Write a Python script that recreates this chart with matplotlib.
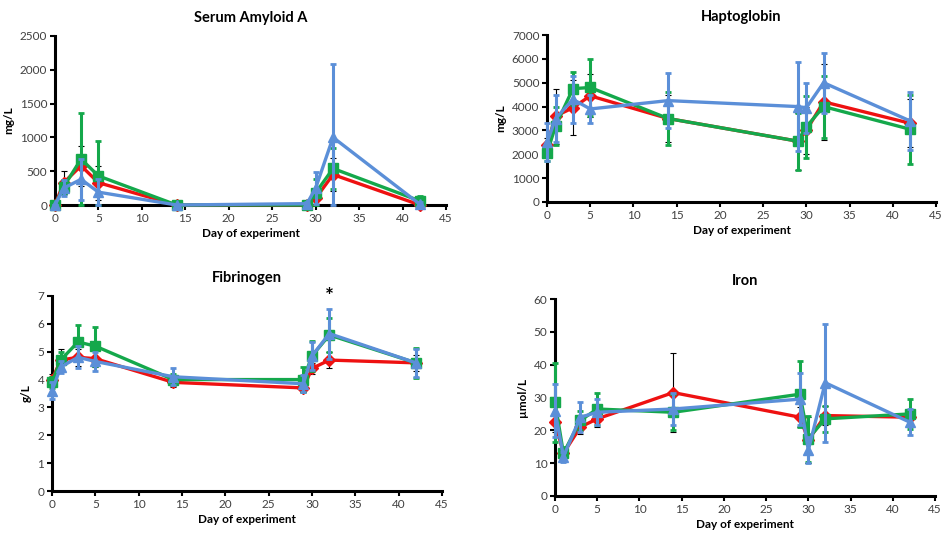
import matplotlib
matplotlib.use("Agg")
import matplotlib.pyplot as plt

plt.rcParams["font.family"] = ["Lato", "DejaVu Sans"]

# Sampling days (shared by all panels)
days = [0, 1, 3, 5, 14, 29, 30, 32, 42]

# Serum Amyloid A (mg/L)
saa_red = [0, 330, 580, 330, 0, 0, 100, 450, 0]
saa_red_err = [0, 170, 300, 250, 0, 10, 80, 250, 20]
saa_green = [0, 270, 680, 430, 0, 0, 180, 540, 60]
saa_green_err = [0, 100, 680, 520, 5, 20, 200, 300, 80]
saa_blue = [0, 250, 380, 190, 0, 20, 250, 1000, 10]
saa_blue_err = [0, 120, 300, 200, 5, 30, 240, 1080, 30]

# Haptoglobin (mg/L)
hp_red = [2400, 3600, 3950, 4450, 3500, 2550, 3000, 4200, 3300]
hp_red_err = [300, 1150, 1150, 900, 1000, 1200, 1000, 1600, 1000]
hp_green = [2050, 3200, 4750, 4800, 3500, 2550, 3150, 4000, 3050]
hp_green_err = [350, 800, 700, 1200, 1100, 1200, 1300, 1300, 1450]
hp_blue = [2500, 3500, 4300, 3900, 4250, 4000, 3950, 5000, 3400]
hp_blue_err = [800, 1000, 1000, 600, 1150, 1850, 1050, 1250, 1200]

# Fibrinogen (g/L)
fib_red = [4.0, 4.7, 4.8, 4.75, 3.9, 3.7, 4.4, 4.7, 4.6]
fib_red_err = [0.2, 0.4, 0.3, 0.3, 0.15, 0.15, 0.2, 0.3, 0.3]
fib_green = [3.9, 4.7, 5.35, 5.2, 4.0, 4.0, 4.85, 5.6, 4.6]
fib_green_err = [0.2, 0.3, 0.6, 0.7, 0.2, 0.45, 0.55, 0.6, 0.55]
fib_blue = [3.6, 4.45, 4.8, 4.65, 4.1, 3.85, 4.85, 5.65, 4.6]
fib_blue_err = [0.3, 0.2, 0.4, 0.35, 0.3, 0.3, 0.5, 0.9, 0.5]

# Iron (umol/L)
fe_red = [22.5, 13, 21, 23.5, 31.5, 24, 17, 24.5, 24]
fe_red_err = [3, 2, 2, 2.5, 12, 3, 7, 3, 2]
fe_green = [28.5, 13, 23, 26.5, 25.5, 31, 17.5, 23.5, 25]
fe_green_err = [12, 2, 3, 5, 5.5, 10, 7, 4, 4.5]
fe_blue = [26, 12, 24, 25.5, 26.5, 29.5, 14, 34.5, 22.5]
fe_blue_err = [8, 1.5, 4.5, 4, 5, 8, 4, 18, 4]

RED = "#ee1111"
GREEN = "#14a84b"
BLUE = "#5b8fd8"
TICK_COLOR = "#404040"

fig = plt.figure(figsize=(9.44, 5.33), dpi=100)
W, H = 944.0, 533.0


def make_axes(left, bottom_px, right, top_px):
    # pixel box (from top-left origin) -> figure fraction
    return fig.add_axes([left / W, (H - bottom_px) / H,
                         (right - left) / W, (bottom_px - top_px) / H])


def floor_err(vals, errs):
    # error bars stop at the x axis (no negative concentrations)
    return [[min(e, v) for v, e in zip(vals, errs)], errs]


def draw_panel(ax, title, ylabel, ymax, ystep, red, red_err, green, green_err,
               blue, blue_err, show_xlabel=True):
    # red series: black thin error bars
    ax.errorbar(days, red, yerr=floor_err(red, red_err), color=RED, lw=2.4,
                marker="D", ms=6, ecolor="black", elinewidth=0.8, capsize=2,
                capthick=0.8, clip_on=False, zorder=3)
    ax.errorbar(days, green, yerr=floor_err(green, green_err), color=GREEN, lw=2.4,
                marker="s", ms=7.5, ecolor=GREEN, elinewidth=2.2, capsize=2,
                capthick=2, clip_on=False, zorder=4)
    ax.errorbar(days, blue, yerr=floor_err(blue, blue_err), color=BLUE, lw=2.4,
                marker="^", ms=7.5, ecolor=BLUE, elinewidth=2.2, capsize=2,
                capthick=2, clip_on=False, zorder=5)

    ax.set_xlim(0, 45)
    ax.set_ylim(0, ymax)
    ax.set_xticks(range(0, 46, 5))
    ax.set_yticks([ystep * i for i in range(int(round(ymax / ystep)) + 1)])

    for side in ["top", "right"]:
        ax.spines[side].set_visible(False)
    for side in ["left", "bottom"]:
        ax.spines[side].set_linewidth(2.2)
        ax.spines[side].set_color("black")

    ax.tick_params(axis="both", direction="out", length=3.5, width=1.5,
                   color="black", labelsize=8.5, labelcolor=TICK_COLOR, pad=2)
    ax.set_title(title, fontsize=10.5, fontweight="bold", pad=10)
    ax.set_ylabel(ylabel, fontsize=8.5, fontweight="bold", labelpad=4)
    if show_xlabel:
        ax.set_xlabel("Day of experiment", fontsize=8.5, fontweight="bold", labelpad=3)


ax1 = make_axes(55, 205, 446, 36)
draw_panel(ax1, "Serum Amyloid A", "mg/L", 2500, 500,
           saa_red, saa_red_err, saa_green, saa_green_err, saa_blue, saa_blue_err)

ax2 = make_axes(547, 202, 936, 35)
draw_panel(ax2, "Haptoglobin", "mg/L", 7000, 1000,
           hp_red, hp_red_err, hp_green, hp_green_err, hp_blue, hp_blue_err)

ax3 = make_axes(52, 491, 442, 296)
draw_panel(ax3, "Fibrinogen", "g/L", 7, 1,
           fib_red, fib_red_err, fib_green, fib_green_err, fib_blue, fib_blue_err)
# significance marker above day 32
ax3.text(32, 6.95, "*", ha="center", va="center", fontsize=15, fontweight="bold")

ax4 = make_axes(555, 496, 935, 299)
draw_panel(ax4, "Iron", "\u00b5mol/L", 60, 10,
           fe_red, fe_red_err, fe_green, fe_green_err, fe_blue, fe_blue_err)

fig.savefig("out.png", dpi=100)
